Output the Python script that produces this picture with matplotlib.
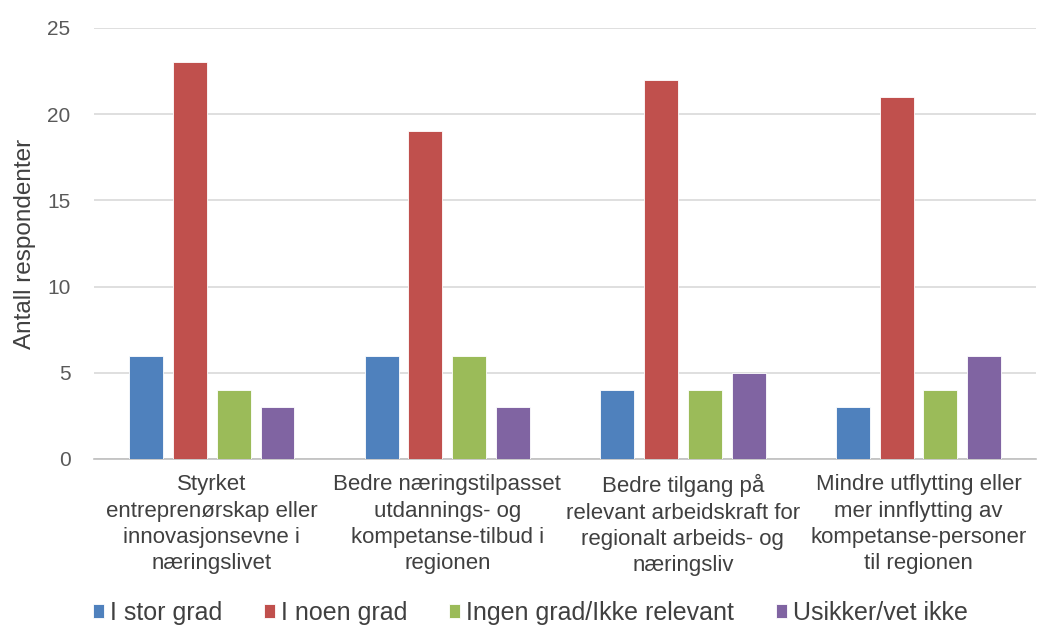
import numpy as np
import matplotlib.pyplot as plt

categories = [
    "Styrket\nentreprenørskap eller\ninnovasjonsevne i\nnæringslivet",
    "Bedre næringstilpasset\nutdannings- og\nkompetanse-tilbud i\nregionen",
    "Bedre tilgang på\nrelevant arbeidskraft for\nregionalt arbeids- og\nnæringsliv",
    "Mindre utflytting eller\nmer innflytting av\nkompetanse-personer\ntil regionen",
]
series_names = ["I stor grad", "I noen grad", "Ingen grad/Ikke relevant", "Usikker/vet ikke"]
i_stor_grad = [6, 6, 4, 3]
i_noen_grad = [23, 19, 22, 21]
ingen_grad = [4, 6, 4, 4]
usikker = [3, 3, 5, 6]
yticks = [0, 5, 10, 15, 20, 25]

colors = ["#4F81BD", "#C0504D", "#9BBB59", "#8064A2"]
plt.rcParams['font.family'] = ['Liberation Sans', 'DejaVu Sans']

fig = plt.figure(figsize=(10.4, 6.26), dpi=100)
ax = fig.add_axes([0.0904, 0.2668, 0.906, 0.6885])

x = np.arange(len(categories))
width = 0.144
step = 0.186
for i, (vals, name, c) in enumerate(zip([i_stor_grad, i_noen_grad, ingen_grad, usikker], series_names, colors)):
    ax.bar(x + (i - 1.5) * step, vals, width, color=c, label=name,
           edgecolor='white', linewidth=0.6, zorder=3)

ax.set_xlim(-0.5, len(categories) - 0.5)
ax.set_ylim(0, 25)
ax.set_yticks(yticks)
ax.yaxis.grid(True, color='#D9D9D9', linewidth=1.2, zorder=0)
ax.tick_params(axis='y', length=0, labelsize=15, colors='#595959', pad=17)
ax.tick_params(axis='x', length=0, pad=11)
ax.set_xticks(x)
ax.set_xticklabels(categories, fontsize=16, color='#404040', linespacing=1.33)
for s in ['top', 'right', 'left']:
    ax.spines[s].set_visible(False)
ax.spines['bottom'].set_color('#BFBFBF')
ax.spines['bottom'].set_linewidth(1.2)
ax.set_ylabel('Antall respondenter', fontsize=17.5, color='#404040', labelpad=8)

fig.legend(loc='center', bbox_to_anchor=(0.51, 0.021), ncol=4, frameon=False,
           fontsize=18, handlelength=0.45, handleheight=0.45, handletextpad=0.25,
           columnspacing=1.65, labelcolor='#404040')

fig.savefig('out.png', dpi=100, facecolor='white')
